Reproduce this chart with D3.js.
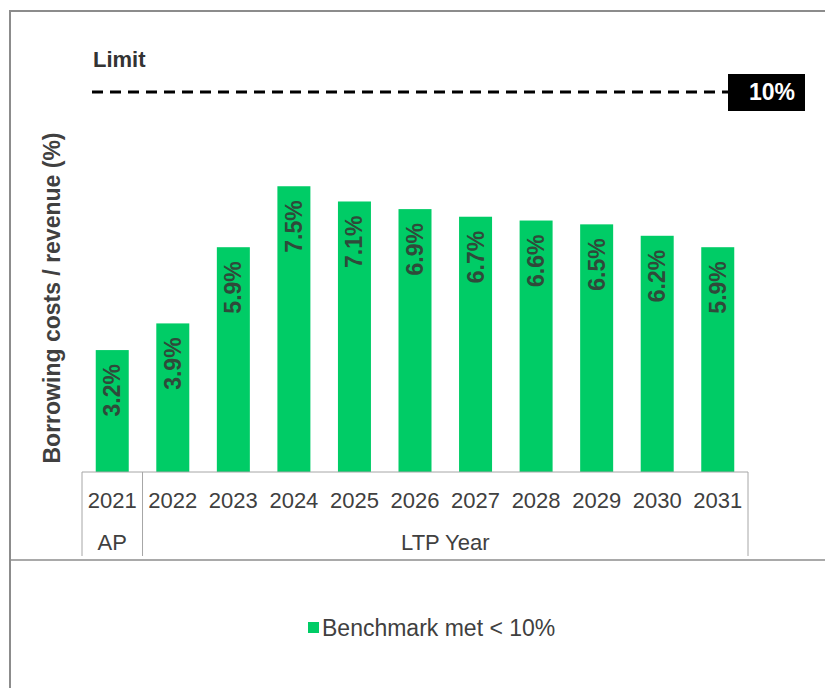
<!DOCTYPE html>
<html><head><meta charset="utf-8">
<script src="https://cdn.jsdelivr.net/npm/d3@7"></script>
<style>body{margin:0;background:#fff}svg{display:block}text{font-family:"Liberation Sans",Arial,sans-serif}</style>
</head><body><svg id="c" width="825" height="688"></svg>
<script>
const years = ["2021","2022","2023","2024","2025","2026","2027","2028","2029","2030","2031"];
const values = [3.2,3.9,5.9,7.5,7.1,6.9,6.7,6.6,6.5,6.2,5.9];
const groups = [{name:"AP", from:"2021", to:"2021"},{name:"LTP Year", from:"2022", to:"2031"}];
const limit = 10;
const legendLabel = "Benchmark met < 10%";
const yTitle = "Borrowing costs / revenue (%)";

const svg = d3.select("#c");
const green = "#00CC66", txt = "#404040";
const x = d3.scaleBand().domain(years).range([82,748]).paddingInner(0.455).paddingOuter(0.227);
const y = d3.scaleLinear().domain([0,10]).range([472,91]);

// frame
svg.append("path").attr("d","M10,688V11H825").attr("fill","none").attr("stroke","#8c8c8c").attr("stroke-width",2);
svg.append("line").attr("x1",10).attr("x2",825).attr("y1",560).attr("y2",560).attr("stroke","#8c8c8c").attr("stroke-width",1.5);

// bars
svg.selectAll("rect.bar").data(values).join("rect").attr("class","bar")
  .attr("x",(d,i)=>x(years[i])).attr("width",x.bandwidth())
  .attr("y",d=>y(d)).attr("height",d=>y(0)-y(d)).attr("fill",green);
svg.selectAll("text.val").data(values).join("text").attr("class","val")
  .attr("transform",(d,i)=>`translate(${x(years[i])+x.bandwidth()/2+8},${y(d)+14}) rotate(-90)`)
  .attr("text-anchor","end").attr("font-size",23).attr("font-weight","bold").attr("fill","#2f4a3a")
  .text(d=>d.toFixed(1)+"%");

// axis table
const axisG = svg.append("g");
const step = x.step();
const x0 = x.range()[0], x1 = x.range()[1];
axisG.append("line").attr("x1",x0).attr("x2",x1).attr("y1",472).attr("y2",472).attr("stroke","#a6a6a6");
const bounds = [x0, x(groups[0].to)+x.bandwidth()+x.paddingInner()*step/2, x1];
bounds.forEach(b=>axisG.append("line").attr("x1",b).attr("x2",b).attr("y1",472).attr("y2",556).attr("stroke","#a6a6a6"));
axisG.selectAll("text.yr").data(years).join("text").attr("class","yr")
  .attr("x",d=>x(d)+x.bandwidth()/2).attr("y",508).attr("text-anchor","middle")
  .attr("font-size",22).attr("fill",txt).text(d=>d);
groups.forEach(g=>{
  const a = x(g.from), b = x(g.to)+x.bandwidth();
  axisG.append("text").attr("x",(a+b)/2).attr("y",550).attr("text-anchor","middle")
    .attr("font-size",22).attr("fill",txt).text(g.name);
});

// limit
svg.append("line").attr("x1",92).attr("x2",728).attr("y1",y(limit)+1).attr("y2",y(limit)+1)
  .attr("stroke","#000").attr("stroke-width",3).attr("stroke-dasharray","11,7");
svg.append("rect").attr("x",728).attr("y",y(limit)-17).attr("width",77).attr("height",37).attr("fill","#000");
svg.append("text").attr("x",772).attr("y",y(limit)+9).attr("text-anchor","middle").attr("font-size",23)
  .attr("font-weight","bold").attr("fill","#fff").text(limit+"%");
svg.append("text").attr("x",93).attr("y",67).attr("font-size",22).attr("font-weight","bold").attr("fill","#333").text("Limit");

// y title
svg.append("text").attr("transform","translate(60,298) rotate(-90)").attr("text-anchor","middle")
  .attr("font-size",23).attr("font-weight","bold").attr("fill",txt).text(yTitle);

// legend
svg.append("rect").attr("x",308).attr("y",622).attr("width",11).attr("height",11).attr("fill",green);
svg.append("text").attr("x",322).attr("y",636).attr("font-size",23).attr("fill",txt).text(legendLabel);
</script></body></html>
